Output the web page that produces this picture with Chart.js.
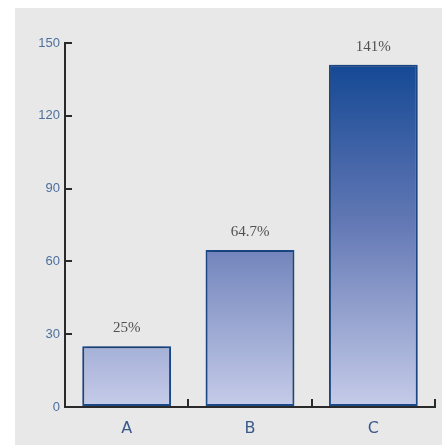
<!DOCTYPE html>
<html>
<head>
<meta charset="utf-8">
<script src="https://cdn.jsdelivr.net/npm/chart.js@4"></script>
<style>
  html, body { margin: 0; padding: 0; background: #ffffff; }
  #wrap { position: relative; width: 442px; height: 445px; }
  #panel { position: absolute; left: 15px; top: 8px; right: 0; bottom: 0; background: #e8e8e8; }
  canvas { position: absolute; left: 0; top: 0; }
</style>
</head>
<body>
<div id="wrap">
  <div id="panel"></div>
  <canvas id="chart" width="442" height="445"></canvas>
</div>
<script>
// Data
const categories = ['A', 'B', 'C'];
const values = [25, 64.7, 141];
const valueLabels = ['25%', '64.7%', '141%'];
const yTicks = [0, 30, 60, 90, 120, 150];

// Soft shadow behind the bars
const barShadow = {
    id: 'barShadow',
    beforeDatasetsDraw(chart) {
        const ctx = chart.ctx;
        ctx.save();
        ctx.shadowColor = 'rgba(0,0,0,0.35)';
        ctx.shadowBlur = 7;
        ctx.shadowOffsetY = -1;
    },
    afterDatasetsDraw(chart) {
        chart.ctx.restore();
    }
};

// Value labels above bars
const valueText = {
    id: 'valueText',
    afterDatasetsDraw(chart) {
        const ctx = chart.ctx;
        const meta = chart.getDatasetMeta(0);
        ctx.save();
        ctx.font = '15px "Liberation Serif", serif';
        ctx.fillStyle = '#505050';
        ctx.textAlign = 'center';
        ctx.textBaseline = 'middle';
        meta.data.forEach((bar, i) => {
            ctx.fillText(valueLabels[i], bar.x, bar.y - 18);
        });
        ctx.restore();
    }
};

function barGradient(context) {
    const area = context.chart.chartArea;
    if (!area) return '#6479b5';
    const g = context.chart.ctx.createLinearGradient(0, area.top, 0, area.bottom);
    g.addColorStop(0, '#0a4290');
    g.addColorStop(0.5, '#6479b5');
    g.addColorStop(1, '#c6cce9');
    return g;
}

new Chart(document.getElementById('chart'), {
    type: 'bar',
    data: {
        labels: categories,
        datasets: [{
            data: values,
            backgroundColor: barGradient,
            borderColor: '#1d4f93',
            borderWidth: 2,
            borderSkipped: false,
            barPercentage: 0.72,
            categoryPercentage: 1
        }]
    },
    options: {
        responsive: false,
        animation: false,
        layout: { padding: { left: 15, right: 7, top: 43, bottom: 0 } },
        plugins: { legend: { display: false }, tooltip: { enabled: false } },
        scales: {
            x: {
                grid: { display: true, drawOnChartArea: false, color: '#2a2a2a', tickLength: -8, lineWidth: 2 },
                border: { color: '#2a2a2a', width: 2 },
                ticks: { color: '#3a5a8a', font: { size: 16, family: '"DejaVu Sans", sans-serif' }, padding: 20 },
                afterFit: (scale) => { scale.height = 38; }
            },
            y: {
                min: 0,
                max: 150,
                afterBuildTicks: (scale) => { scale.ticks = yTicks.map(v => ({ value: v })); },
                grid: { display: true, drawOnChartArea: false, color: '#2a2a2a', tickLength: -7, lineWidth: 2 },
                border: { color: '#2a2a2a', width: 2 },
                ticks: { color: '#4d6f9c', font: { size: 13, family: '"Liberation Sans", sans-serif' }, padding: 12 },
                afterFit: (scale) => { scale.width = 50; }
            }
        }
    },
    plugins: [barShadow, valueText]
});
</script>
</body>
</html>
